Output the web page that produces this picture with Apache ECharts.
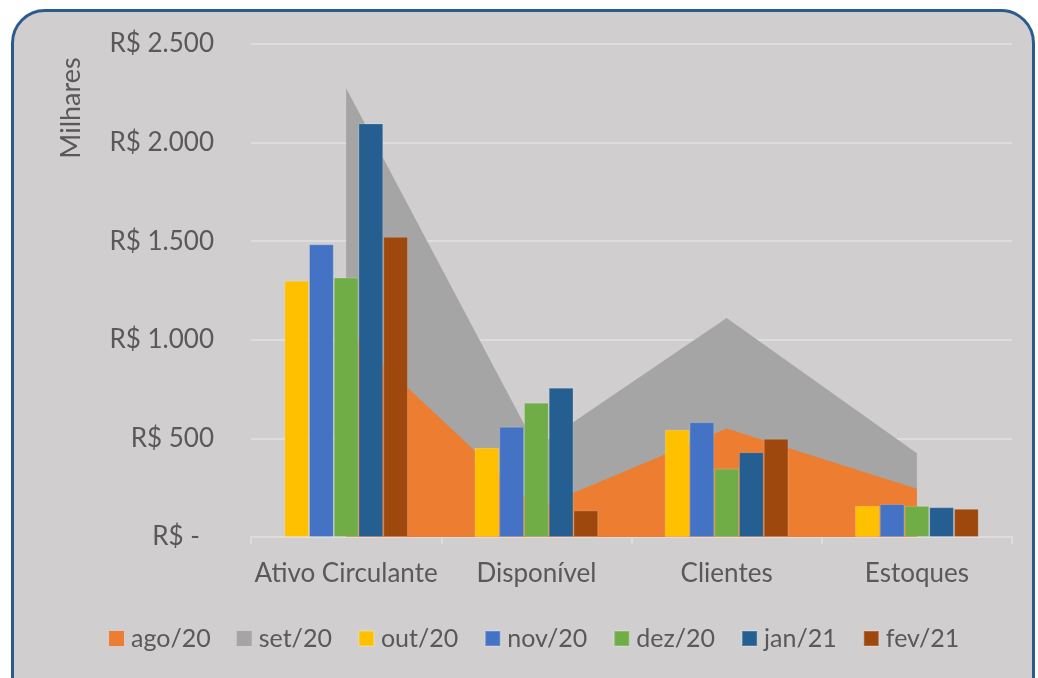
<!DOCTYPE html>
<html>
<head>
<meta charset="utf-8">
<script src="https://cdn.jsdelivr.net/npm/echarts@6/dist/echarts.min.js"></script>
<style>
  html, body { margin: 0; padding: 0; background: #fff; }
  #frame {
    position: absolute; left: 11px; top: 9px; width: 1018px; height: 720px;
    background: #D0CECE; border: 3px solid #2B5B8A; border-radius: 34px;
  }
  #chart { position: absolute; left: 0; top: 0; width: 1038px; height: 678px; }
</style>
</head>
<body>
<div id="frame"></div>
<div id="chart"></div>
<script>
const categories = ['Ativo Circulante', 'Disponível', 'Clientes', 'Estoques'];
const ago20 = [1050, 145, 550, 245];
const set20 = [2275, 455, 1110, 425];
const out20 = [1300, 452, 544, 158];
const nov20 = [1484, 559, 582, 167];
const dez20 = [1316, 681, 347, 158];
const jan21 = [2097, 757, 430, 151];
const fev21 = [1522, 135, 498, 143];

const FONT = 'Lato';
const TEXT = '#595959';
const LIGHT = '#DEDCDC';

function fmtMoney(v) {
  if (v === 0) return '{z|R$ -}';
  return 'R$ ' + String(v).replace(/\B(?=(\d{3})+(?!\d))/g, '.');
}

const areaSeries = (name, data, color, z) => ({
  name, type: 'line', data, z,
  symbol: 'none',
  lineStyle: { width: 0 },
  areaStyle: { color, opacity: 1 },
  itemStyle: { color },
  emphasis: { disabled: true }
});

const barSeries = (name, data, color) => ({
  name, type: 'bar', data, z: 5,
  barGap: '0%', barCategoryGap: '35%',
  itemStyle: { color, borderColor: 'rgba(255,255,255,0.18)', borderWidth: 1 }
});

const chart = echarts.init(document.getElementById('chart'));
chart.setOption({
  animation: false,
  backgroundColor: 'transparent',
  textStyle: { fontFamily: FONT, color: TEXT },
  grid: { left: 251, right: 26, top: 44, bottom: 141, containLabel: false },
  legend: {
    left: 104, top: 621,
    itemWidth: 15, itemHeight: 15, itemGap: 26,
    icon: 'rect',
    textStyle: { fontFamily: FONT, fontSize: 25, color: TEXT, padding: [0, 0, 0, 2] },
    data: ['ago/20', 'set/20', 'out/20', 'nov/20', 'dez/20', 'jan/21', 'fev/21']
  },
  graphic: [{
    type: 'text', x: 71, y: 108, rotation: Math.PI / 2,
    style: { text: 'Milhares', font: '27px ' + FONT, fill: TEXT, align: 'center', verticalAlign: 'middle' }
  }],
  xAxis: {
    type: 'category', data: categories, boundaryGap: true,
    axisLine: { lineStyle: { color: LIGHT, width: 2 } },
    axisTick: { show: true, interval: 0, length: 7, lineStyle: { color: LIGHT, width: 2 } },
    axisLabel: { interval: 0, fontFamily: FONT, fontSize: 26, color: TEXT, margin: 24 }
  },
  yAxis: {
    type: 'value', min: 0, max: 2500, interval: 500,
    axisLine: { show: false },
    axisTick: { show: false },
    splitLine: { lineStyle: { color: LIGHT, width: 2 } },
    axisLabel: {
      fontFamily: FONT, fontSize: 26, color: TEXT, margin: 37,
      formatter: fmtMoney,
      rich: { z: { fontFamily: FONT, fontSize: 26, color: TEXT, padding: [0, 14, 0, 0] } }
    }
  },
  series: [
    areaSeries('ago/20', ago20, '#ED7D31', 2),
    areaSeries('set/20', set20, '#A5A5A5', 1),
    barSeries('out/20', out20, '#FFC000'),
    barSeries('nov/20', nov20, '#4472C4'),
    barSeries('dez/20', dez20, '#70AD47'),
    barSeries('jan/21', jan21, '#255E91'),
    barSeries('fev/21', fev21, '#9E480E')
  ]
});
window.addEventListener('resize', () => chart.resize());
</script>
</body>
</html>
